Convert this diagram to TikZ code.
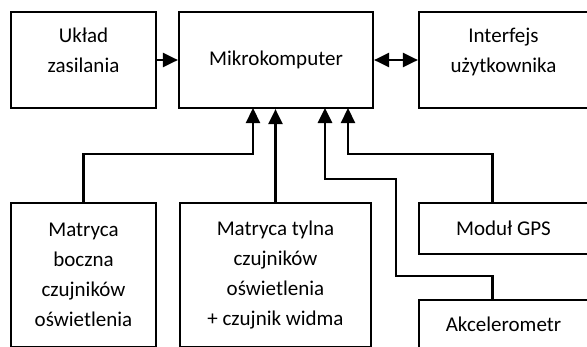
\documentclass[tikz,border=0pt]{standalone}
\usepackage{fontspec}
\setmainfont{Carlito}
\usetikzlibrary{arrows.meta}

\tikzset{blok/.style={draw,line width=2.2pt,align=center,inner sep=0pt,font=\fontsize{21}{30}\selectfont},
	strz/.style={line width=2.2pt,-{Triangle[length=15pt,width=14pt]}}}

\begin{document}
\begin{tikzpicture}[x=1pt,y=-1pt]
				\useasboundingbox (0,0) rectangle (587,346);
				\clip (0,0) rectangle (587,346);
				\node[blok,minimum width=145,minimum height=96,text depth=20pt] (zasil) at (83.5,60){Układ\\zasilania};
				\node[blok,minimum width=194,minimum height=96] (mikro) at (276,60){Mikrokomputer};
				\node[blok,minimum width=169,minimum height=96,text depth=20pt] (interf) at (503.5,60){Interfejs\\użytkownika};
				\node[blok,minimum width=145,minimum height=144] (boczna) at (83.5,275){Matryca\\boczna\\czujników\\oświetlenia};
				\node[blok,minimum width=191,minimum height=144] (tylna) at (275.5,275){Matryca tylna\\czujników\\oświetlenia\\+ czujnik widma};
				\node[blok,minimum width=169,minimum height=51] (gps) at (503.5,228.5){Moduł GPS};
				\node[blok,minimum width=169,minimum height=48] (akcel) at (503.5,324){Akcelerometr};
				% wejscia mikrokomputera
				\coordinate (we1) at (253,108);
				\coordinate (we3) at (325,108);
				\coordinate (we4) at (348,108);
				\draw[strz] (zasil.east) -- (mikro.west);
				\draw[line width=2.2pt,{Triangle[length=15pt,width=14pt]}-{Triangle[length=15pt,width=14pt]}] (mikro.east) -- (interf.west);
				\draw[strz] (boczna.north) -- ++(0,-48) -| (we1);
				\draw[strz] (tylna.north) -- (tylna.north |- mikro.south);
				\draw[strz,line width=2.8pt] ([xshift=-11pt]akcel.north) |- (396,276) |- (325,179) -- (we3);
				\draw[strz] ([xshift=-11pt]gps.north) -- ++(0,-48) -| (we4);
			\end{tikzpicture}
\end{document}
